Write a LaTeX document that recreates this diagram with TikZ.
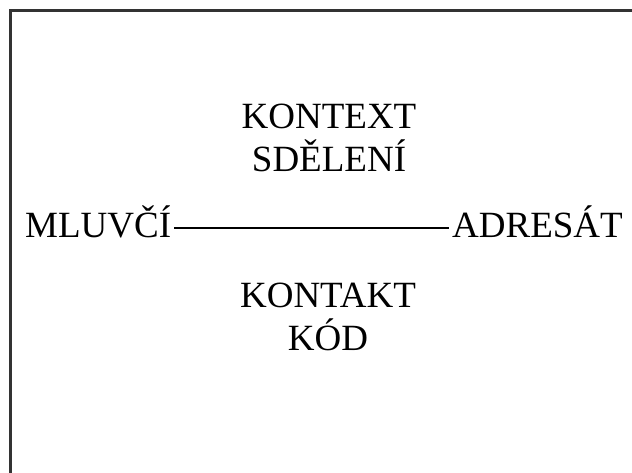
\documentclass[tikz,border=0pt]{standalone}
\usepackage{fontspec}
\setmainfont{Liberation Serif}
\begin{document}
\begin{tikzpicture}[x=1pt,y=-1pt, word/.style={font=\fontsize{37}{43}\selectfont, inner sep=3pt, align=center}]
\useasboundingbox (0,0) rectangle (632,472);
\draw[line width=3pt, black!80] (10.5,10.5) rectangle (633.5,520);
\node[word, anchor=base] (kontext) at (329,171) {KONTEXT\\SDĚLENÍ};
\node[word, anchor=base west] (mluvci) at (22,237) {MLUVČÍ};
\node[word, anchor=base east] (adresat) at (626,237) {ADRESÁT};
\node[word, anchor=base] (kontakt) at (328,350) {KONTAKT\\KÓD};
\draw[line width=2.8pt] ([yshift=9pt]mluvci.base east) -- ([yshift=9pt]adresat.base west);
\end{tikzpicture}
\end{document}
